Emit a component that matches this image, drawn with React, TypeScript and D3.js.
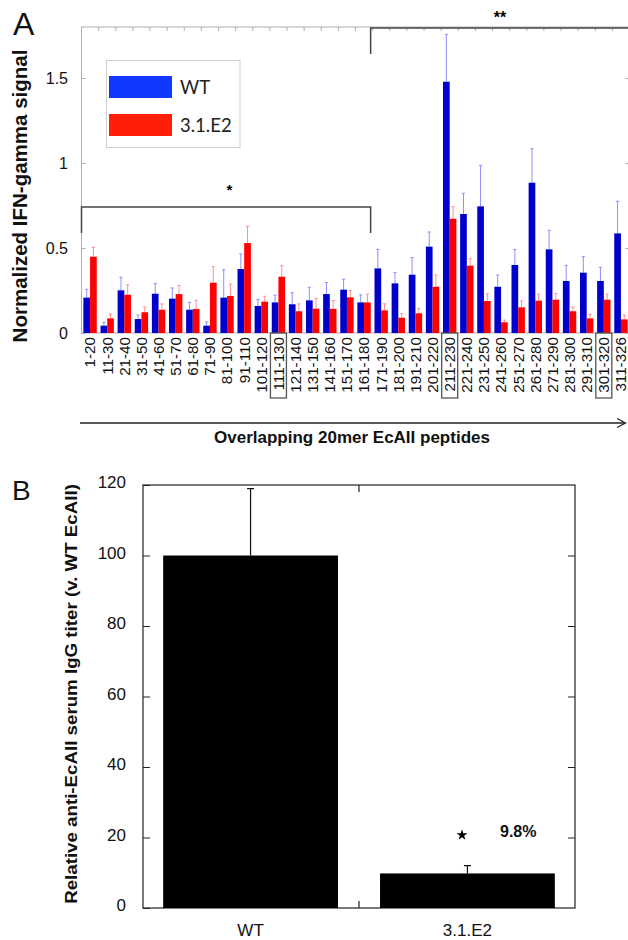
import React, { useEffect, useRef } from 'react';
import * as d3 from 'd3';

// panel A: IFN-gamma signal per overlapping peptide
const peptides = [
  '1-20', '11-30', '21-40', '31-50', '41-60', '51-70', '61-80', '71-90',
  '81-100', '91-110', '101-120', '111-130', '121-140', '131-150', '141-160', '151-170',
  '161-180', '171-190', '181-200', '191-210', '201-220', '211-230', '221-240', '231-250',
  '241-260', '251-270', '261-280', '271-290', '281-300', '291-310', '301-320', '311-326',
];
const wtSignal = [
  0.208, 0.043, 0.251, 0.082, 0.231, 0.202, 0.137, 0.043,
  0.208, 0.376, 0.159, 0.18, 0.169, 0.192, 0.229, 0.255,
  0.18, 0.38, 0.292, 0.343, 0.508, 1.478, 0.7, 0.745,
  0.272, 0.4, 0.884, 0.492, 0.306, 0.355, 0.306, 0.586,
];
const wtError = [
  0.049, 0.02, 0.077, 0.024, 0.061, 0.063, 0.043, 0.022,
  0.164, 0.089, 0.039, 0.042, 0.068, 0.077, 0.068, 0.061,
  0.045, 0.112, 0.063, 0.1, 0.086, 0.279, 0.122, 0.241,
  0.069, 0.092, 0.2, 0.112, 0.092, 0.094, 0.08, 0.189,
];
const mutSignal = [
  0.449, 0.086, 0.225, 0.122, 0.137, 0.229, 0.141, 0.296,
  0.218, 0.529, 0.184, 0.331, 0.128, 0.143, 0.142, 0.21,
  0.18, 0.133, 0.09, 0.116, 0.272, 0.672, 0.396, 0.188,
  0.063, 0.151, 0.19, 0.196, 0.128, 0.086, 0.196, 0.08,
];
const mutError = [
  0.055, 0.026, 0.059, 0.031, 0.034, 0.051, 0.051, 0.094,
  0.07, 0.098, 0.032, 0.065, 0.043, 0.061, 0.049, 0.041,
  0.049, 0.039, 0.024, 0.029, 0.069, 0.071, 0.041, 0.043,
  0.013, 0.037, 0.039, 0.037, 0.025, 0.024, 0.033, 0.026,
];
const boxedPeptides = ['111-130', '211-230', '301-320'];
const signalTicks = [0, 0.5, 1, 1.5];

// panel B: relative IgG titer
const titerGroups = ['WT', '3.1.E2'];
const titerValues = [100, 9.8];
const titerErrors = [19, 2.2];
const titerTicks = [0, 20, 40, 60, 80, 100, 120];

const font = 'Liberation Sans, Arial, Helvetica, sans-serif';

export default function App() {
  const ref = useRef<SVGSVGElement>(null);

  useEffect(() => {
    const svg = d3.select(ref.current);
    svg.selectAll('*').remove();
    svg.style('font-family', font);

    // ---------- panel A ----------
    const left = 81.5, right = 629.5, top = 27, bottom = 333;
    const xA = d3.scaleBand().domain(peptides).range([left, right]).padding(0);
    const xSeries = d3
      .scaleBand()
      .domain(['WT', '3.1.E2'])
      .range([0, xA.bandwidth()])
      .paddingInner(0)
      .paddingOuter(0.28);
    const yA = d3.scaleLinear().domain([0, 1.8]).range([bottom, top]);

    const barColor: Record<string, string> = { WT: '#0000cd', '3.1.E2': '#ff0000' };
    const errColor: Record<string, string> = { WT: '#8f8fff', '3.1.E2': '#ff8f8f' };

    const a = svg.append('g');

    a.append('rect')
      .attr('x', left)
      .attr('y', top)
      .attr('width', right - left)
      .attr('height', bottom - top)
      .attr('fill', 'none')
      .attr('stroke', '#b0b0b0');

    // little ticks at category boundaries along the top edge
    a.selectAll('.topTick')
      .data(d3.range(peptides.length + 1))
      .enter()
      .append('line')
      .attr('x1', (i) => left + i * xA.step())
      .attr('x2', (i) => left + i * xA.step())
      .attr('y1', top)
      .attr('y2', top + 4)
      .attr('stroke', '#b0b0b0');

    const groups = peptides.map((p, i) => ({
      peptide: p,
      series: [
        { key: 'WT', value: wtSignal[i], err: wtError[i] },
        { key: '3.1.E2', value: mutSignal[i], err: mutError[i] },
      ],
    }));

    const g = a
      .selectAll('.grp')
      .data(groups)
      .enter()
      .append('g')
      .attr('transform', (d) => `translate(${xA(d.peptide)},0)`);

    // error bars (drawn first so bars sit over the stem base)
    g.selectAll('.err')
      .data((d) => d.series)
      .enter()
      .append('path')
      .attr('d', (d) => {
        const cx = (xSeries(d.key) as number) + xSeries.bandwidth() / 2;
        const y0 = yA(d.value);
        const y1 = yA(d.value + d.err);
        return `M${cx},${y0}V${y1}M${cx - 1.6},${y1}H${cx + 1.6}`;
      })
      .attr('stroke', (d) => errColor[d.key])
      .attr('stroke-width', 1)
      .attr('fill', 'none');

    g.selectAll('.bar')
      .data((d) => d.series)
      .enter()
      .append('rect')
      .attr('x', (d) => xSeries(d.key) as number)
      .attr('y', (d) => yA(d.value))
      .attr('width', xSeries.bandwidth())
      .attr('height', (d) => bottom - yA(d.value))
      .attr('fill', (d) => barColor[d.key]);

    // y axis (left labels + inward ticks)
    const yAxisA = a
      .append('g')
      .attr('transform', `translate(${left},0)`)
      .call(
        d3
          .axisLeft(yA)
          .tickValues(signalTicks)
          .tickFormat((d) => String(d))
          .tickSizeInner(-4)
          .tickSizeOuter(0)
          .tickPadding(13.5)
      );
    yAxisA.select('.domain').remove();
    yAxisA.selectAll('line').attr('stroke', '#b0b0b0');
    yAxisA.selectAll('text').attr('font-size', 16).attr('fill', '#111').attr('font-family', font);

    const yAxisAR = a
      .append('g')
      .attr('transform', `translate(${right},0)`)
      .call(d3.axisRight(yA).tickValues(signalTicks).tickFormat(() => '').tickSizeInner(-4).tickSizeOuter(0));
    yAxisAR.select('.domain').remove();
    yAxisAR.selectAll('line').attr('stroke', '#b0b0b0');

    // x labels, rotated
    const xAxisA = a
      .append('g')
      .attr('transform', `translate(0,${bottom})`)
      .call(d3.axisBottom(xA).tickSize(0));
    xAxisA.select('.domain').remove();
    xAxisA
      .selectAll('text')
      .attr('transform', 'rotate(-90)')
      .attr('x', -4)
      .attr('y', 0)
      .attr('dy', '0.35em')
      .attr('text-anchor', 'end')
      .attr('font-size', 15.2)
      .attr('font-family', font)
      .attr('fill', '#111');

    a.selectAll('.box')
      .data(boxedPeptides)
      .enter()
      .append('rect')
      .attr('x', (d) => (xA(d) as number) + xA.bandwidth() / 2 - 8)
      .attr('y', bottom)
      .attr('width', 16)
      .attr('height', 65)
      .attr('fill', 'none')
      .attr('stroke', '#555')
      .attr('stroke-width', 1.3);

    // y label
    a.append('text')
      .attr('transform', 'translate(27,196) rotate(-90)')
      .attr('text-anchor', 'middle')
      .attr('font-weight', 'bold')
      .attr('font-size', 20.5)
      .attr('fill', '#111')
      .text('Normalized IFN-gamma signal');

    a.append('text')
      .attr('x', 13)
      .attr('y', 35)
      .attr('font-size', 32)
      .attr('fill', '#111')
      .text('A');

    // legend
    a.append('rect')
      .attr('x', 106.5)
      .attr('y', 60.5)
      .attr('width', 133.5)
      .attr('height', 87)
      .attr('fill', 'white')
      .attr('stroke', '#cfcfcf');
    const legend = [
      { key: 'WT', color: '#1038ff', y: 76 },
      { key: '3.1.E2', color: '#ff1e0a', y: 114 },
    ];
    legend.forEach((l) => {
      a.append('rect')
        .attr('x', 109)
        .attr('y', l.y)
        .attr('width', 63)
        .attr('height', 22)
        .attr('fill', l.color);
      a.append('text')
        .attr('x', 180)
        .attr('y', l.y + 18)
        .attr('font-family', 'Lato, Open Sans, sans-serif')
        .attr('font-size', 18.5)
        .attr('fill', '#222')
        .text(l.key);
    });

    // significance brackets
    const splitX = xA('161-180')! + xA.bandwidth() - 2;
    a.append('path')
      .attr('d', `M${left},233V207H${splitX}V233`)
      .attr('fill', 'none')
      .attr('stroke', '#444')
      .attr('stroke-width', 1.5);
    a.append('text')
      .attr('x', 229.5)
      .attr('y', 195)
      .attr('text-anchor', 'middle')
      .attr('font-weight', 'bold')
      .attr('font-size', 15)
      .text('*');
    a.append('path')
      .attr('d', `M${splitX},54V28H${right}`)
      .attr('fill', 'none')
      .attr('stroke', '#444')
      .attr('stroke-width', 1.5);
    a.append('text')
      .attr('x', 500)
      .attr('y', 23)
      .attr('text-anchor', 'middle')
      .attr('font-weight', 'bold')
      .attr('font-size', 16)
      .text('**');

    // arrow + axis title
    a.append('line')
      .attr('x1', 80)
      .attr('x2', 625)
      .attr('y1', 423)
      .attr('y2', 423)
      .attr('stroke', '#222')
      .attr('stroke-width', 1.3);
    a.append('path')
      .attr('d', 'M617,418.5L625.5,423L617,427.5')
      .attr('fill', 'none')
      .attr('stroke', '#222')
      .attr('stroke-width', 1.3);
    a.append('text')
      .attr('x', 352)
      .attr('y', 443)
      .attr('text-anchor', 'middle')
      .attr('font-weight', 'bold')
      .attr('font-size', 17)
      .attr('fill', '#111')
      .text('Overlapping 20mer EcAII peptides');

    // ---------- panel B ----------
    const bl = 143, br = 575, bt = 485, bb = 908;
    const xB = d3.scaleBand().domain(titerGroups).range([bl, br]).paddingInner(0.194).paddingOuter(0.093);
    const yB = d3.scaleLinear().domain([0, 120]).range([bb, bt]);
    const b = svg.append('g');

    b.append('rect')
      .attr('x', bl)
      .attr('y', bt)
      .attr('width', br - bl)
      .attr('height', bb - bt)
      .attr('fill', 'none')
      .attr('stroke', '#222')
      .attr('stroke-width', 1.2);

    const titers = titerGroups.map((k, i) => ({ key: k, value: titerValues[i], err: titerErrors[i] }));

    b.selectAll('.err')
      .data(titers)
      .enter()
      .append('path')
      .attr('d', (d) => {
        const cx = (xB(d.key) as number) + xB.bandwidth() / 2;
        const y1 = yB(d.value + d.err);
        return `M${cx},${yB(d.value)}V${y1}M${cx - 3.5},${y1}H${cx + 3.5}`;
      })
      .attr('stroke', '#111')
      .attr('stroke-width', 1.2)
      .attr('fill', 'none');

    b.selectAll('.bar')
      .data(titers)
      .enter()
      .append('rect')
      .attr('x', (d) => xB(d.key) as number)
      .attr('y', (d) => yB(d.value))
      .attr('width', xB.bandwidth())
      .attr('height', (d) => bb - yB(d.value))
      .attr('fill', '#000');

    const yAxisB = b
      .append('g')
      .attr('transform', `translate(${bl},0)`)
      .call(d3.axisLeft(yB).tickValues(titerTicks).tickSizeInner(-7).tickSizeOuter(0).tickPadding(17));
    yAxisB.select('.domain').remove();
    yAxisB.selectAll('line').attr('stroke', '#222');
    yAxisB
      .selectAll('text')
      .attr('font-size', 17)
      .attr('font-family', font)
      .attr('fill', '#111')
      .attr('dy', '0.15em');

    const yAxisBR = b
      .append('g')
      .attr('transform', `translate(${br},0)`)
      .call(d3.axisRight(yB).tickValues(titerTicks.slice(1, -1)).tickFormat(() => '').tickSizeInner(-7).tickSizeOuter(0));
    yAxisBR.select('.domain').remove();
    yAxisBR.selectAll('line').attr('stroke', '#222');

    const midX = (bl + br) / 2;
    b.append('path')
      .attr('d', `M${midX},${bb}v-7M${midX},${bt}v7`)
      .attr('stroke', '#222')
      .attr('stroke-width', 1.2);

    const xAxisB = b
      .append('g')
      .attr('transform', `translate(0,${bb})`)
      .call(d3.axisBottom(xB).tickSize(0).tickPadding(15.5));
    xAxisB.select('.domain').remove();
    xAxisB.selectAll('text').attr('font-size', 17).attr('font-family', font).attr('fill', '#111');

    b.append('text')
      .attr('transform', 'translate(77,694) rotate(-90) scale(1.17,1)')
      .attr('text-anchor', 'middle')
      .attr('font-weight', 'bold')
      .attr('font-size', 16)
      .attr('fill', '#111')
      .text('Relative anti-EcAII serum IgG titer (v. WT EcAII)');

    b.append('text')
      .attr('x', 12)
      .attr('y', 500)
      .attr('font-size', 28)
      .attr('fill', '#111')
      .text('B');

    b.append('path')
      .attr('transform', 'translate(462,835)')
      .attr('d', d3.symbol().type(d3.symbolStar).size(38)() as string)
      .attr('fill', '#000');
    b.append('text')
      .attr('x', 500)
      .attr('y', 836.5)
      .attr('font-weight', 'bold')
      .attr('font-size', 16)
      .attr('fill', '#111')
      .text('9.8%');
  }, []);

  return (
    <div>
      <svg
        ref={ref}
        width={628}
        height={940}
        style={{ position: 'absolute', left: 0, top: 0, background: 'white' }}
      />
    </div>
  );
}
